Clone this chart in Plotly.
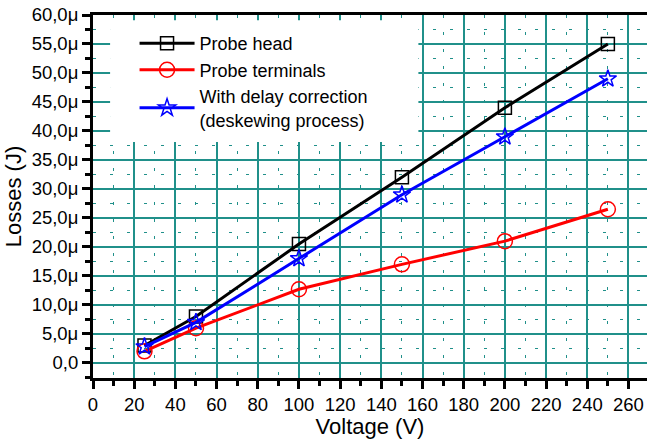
import plotly.graph_objects as go

voltage = [25, 50, 100, 150, 200, 250]
probe_head = [3.0, 8.0, 20.5, 32.0, 44.0, 55.0]
probe_terminals = [2.0, 6.0, 12.7, 17.0, 21.0, 26.5]
delay_corrected = [2.8, 7.0, 18.0, 29.0, 39.0, 49.0]

x_ticks = list(range(0, 261, 20))
y_ticks = [0, 5, 10, 15, 20, 25, 30, 35, 40, 45, 50, 55, 60]
y_ticktext = ["0,0"] + [f"{v},0\u03bc" for v in y_ticks[1:]]

names = ["Probe head", "Probe terminals", "With delay correction<br>(deskewing process)"]
colors = ["black", "#ff0000", "#0000ff"]
symbols = ["square-open", "circle-open", "star-open"]
sizes = [13, 15, 13]

GRID = "#20908a"
FONT = "Liberation Sans, Arial, sans-serif"

fig = go.Figure()
for name, ys, c, s, sz in zip(names, [probe_head, probe_terminals, delay_corrected], colors, symbols, sizes):
    fig.add_trace(go.Scatter(
        x=voltage, y=ys, name=name, mode="lines+markers",
        line=dict(color=c, width=3),
        marker=dict(symbol=s, size=sz, color=c, line=dict(color=c, width=1.5)),
    ))

# white legend background covering the grid
fig.add_shape(type="rect", xref="x", yref="y", x0=8.3, x1=158, y0=38.1, y1=59.1,
              fillcolor="white", line=dict(width=0), layer="between")

fig.update_layout(
    width=647, height=439,
    margin=dict(l=93, r=0, t=15, b=61),
    paper_bgcolor="white", plot_bgcolor="white",
    font=dict(family=FONT, size=18.5, color="black"),
    showlegend=True,
    legend=dict(x=0.075, y=0.972, xanchor="left", yanchor="top",
                bgcolor="rgba(0,0,0,0)", borderwidth=0,
                font=dict(family=FONT, size=18, color="black"),
                itemwidth=55, tracegroupgap=0),
    xaxis=dict(
        range=[0, 269], tickvals=x_ticks, ticktext=[str(v) for v in x_ticks],
        showline=True, linecolor="black", linewidth=3, mirror=True,
        ticks="outside", ticklen=8, tickwidth=3, tickcolor="black",
        showgrid=True, gridcolor=GRID, gridwidth=1.5, zeroline=False,
        minor=dict(dtick=10, tick0=0, ticks="outside", ticklen=5, tickwidth=3, tickcolor="black",
                   showgrid=True, gridcolor=GRID, gridwidth=1, griddash="3px,14px"),
        title=dict(text="Voltage (V)", font=dict(size=22), standoff=4),
        tickfont=dict(size=18.5), automargin=False, ticklabeloverflow="allow",
    ),
    yaxis=dict(
        range=[-2.6, 60], tickvals=y_ticks, ticktext=y_ticktext,
        showline=True, linecolor="black", linewidth=3, mirror=False,
        ticks="outside", ticklen=8, tickwidth=3, tickcolor="black",
        showgrid=True, gridcolor=GRID, gridwidth=1.5, zeroline=False,
        minor=dict(dtick=2.5, tick0=0, ticks="outside", ticklen=5, tickwidth=3, tickcolor="black",
                   showgrid=True, gridcolor=GRID, gridwidth=1, griddash="3px,14px"),
        title=dict(text="Losses (J)", font=dict(size=22), standoff=4),
        tickfont=dict(size=18.5), automargin=False, ticklabeloverflow="allow",
    ),
)

fig.write_html("out.html", config={"displayModeBar": False},
               post_script="document.body.style.margin='0';")
